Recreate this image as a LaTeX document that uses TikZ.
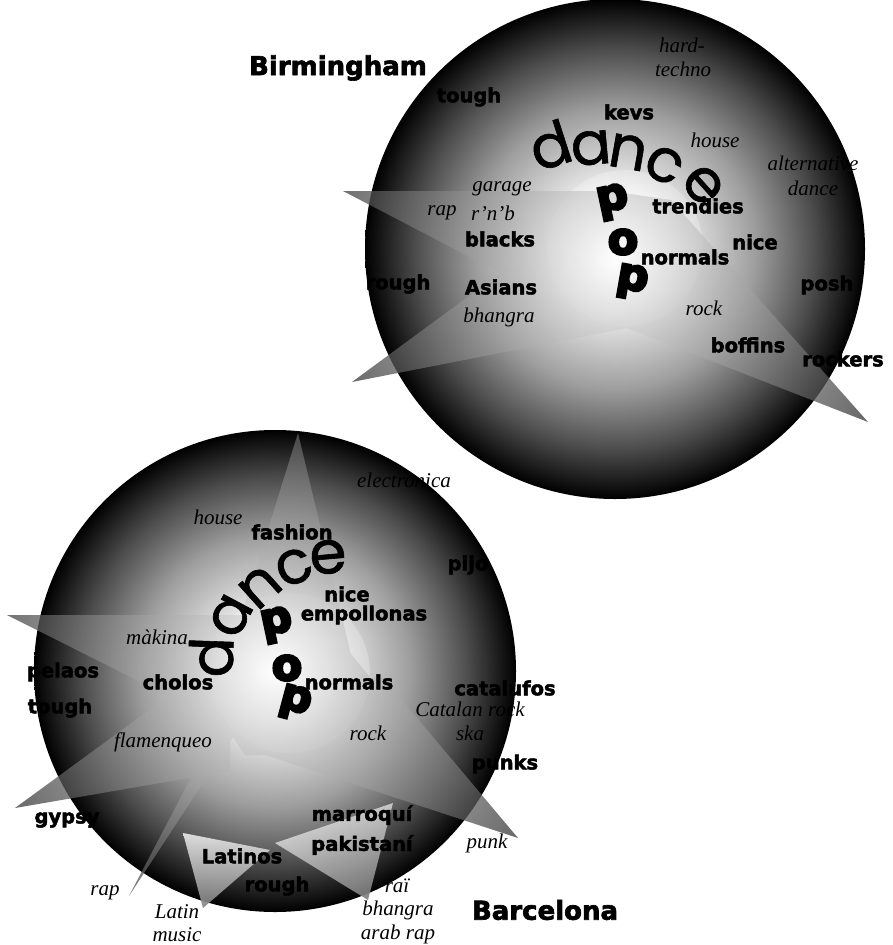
\documentclass[tikz,border=0pt]{standalone}
\usepackage{fontspec}
\setmainfont{Liberation Serif}
\newfontfamily\heavyfont{DejaVu Sans Bold}[FakeBold=2.5]
\newfontfamily\popfont{DejaVu Sans Bold}[FakeBold=6]
\newfontfamily\dancefont{Poppins}[FakeBold=1]

\pgfdeclareradialshading{ballshade}{\pgfpoint{0bp}{0bp}}{color(0bp)=(white); color(6bp)=(white!94!black); color(14bp)=(white!62!black); color(20bp)=(white!30!black); color(25bp)=(black); color(50bp)=(black)}
\pgfdeclareradialshading{spikeshade}{\pgfpoint{0bp}{0bp}}{color(0bp)=(white); color(25bp)=(black!80); color(50bp)=(black!80)}

\tikzset{
	grp/.style={font=\heavyfont\fontsize{19.5}{19.5}\selectfont, inner sep=0pt},
	gen/.style={font=\itshape\fontsize{21}{21}\selectfont, inner sep=0pt},
	city/.style={font=\heavyfont\fontsize{26}{26}\selectfont, inner sep=0pt},
	dnc/.style={font=\dancefont\fontsize{60}{60}\selectfont, inner sep=0pt},
	pp/.style={font=\popfont\fontsize{44}{44}\selectfont, inner sep=0pt}
}

\begin{document}
\begin{tikzpicture}[x=1pt, y=-1pt]
			%%%%% START %%%%%
			\useasboundingbox (0, 0) rectangle (892, 945);
			
			%%%%% Birmingham %%%%%
			\shade[shading=ballshade] (615, 249) circle (250pt);
			\fill[white, opacity=0.25] (625, 248) circle (78pt);
			
			\begin{scope}
				\clip (343, 191) -- (610, 191) -- (610, 330) -- cycle
				      (352, 382) -- (590, 207) -- (627, 328) -- cycle
				      (868, 422) -- (627, 328) -- (671, 200) -- cycle
				      (610, 191) -- (671, 200) -- (627, 328) -- (610, 330) -- cycle;
				\shade[shading=spikeshade, fill opacity=0.75] (615, 260) circle (300pt);
			\end{scope}
			
			\node[city] (bham) at (338, 68) {Birmingham};
			\node[grp] (btough) at (469, 97) {tough};
			\node[grp] (bkevs) at (629, 112) {kevs};
			\node[gen] (bhard) at (682, 45) {hard-};
			\node[gen] (btechno) at (683, 69) {techno};
			\node[gen] (bhouse) at (715, 140) {house};
			\node[gen] (balt) at (813, 163) {alternative};
			\node[gen] (baltdance) at (813, 188) {dance};
			\node[gen] (bgarage) at (502, 189) {garage};
			\node[gen] (brap) at (442, 213) {rap};
			\node[gen] (brnb) at (493, 213) {r’n’b};
			\node[grp] (btrendies) at (698, 206) {trendies};
			\node[grp] (bblacks) at (500, 239) {blacks};
			\node[grp] (bnice) at (755, 242) {nice};
			\node[grp] (bnormals) at (685, 257) {normals};
			\node[grp] (brough) at (398, 284) {rough};
			\node[grp] (basians) at (501, 287) {Asians};
			\node[grp] (bposh) at (827, 285) {posh};
			\node[gen] (bbhangra) at (499, 317) {bhangra};
			\node[gen] (brock) at (704, 308) {rock};
			\node[grp] (bboffins) at (748, 345) {boffins};
			\node[grp] (brockers) at (843, 359) {rockers};
			
			\node[dnc, rotate=18] (bd) at (550, 145) {d};
			\node[dnc, rotate=5] (ba) at (591, 148) {a};
			\node[dnc, rotate=-10] (bn) at (628, 152) {n};
			\node[dnc, rotate=-28] (bc) at (664, 165) {c};
			\node[dnc, rotate=-48] (be) at (703, 185) {e};
			
			\node[pp, rotate=12] (bpa) at (613, 202) {p};
			\node[pp] (bpo) at (623, 242) {o};
			\node[pp, rotate=-10] (bpb) at (632, 282) {p};
			
			%%%%% Barcelona %%%%%
			\shade[shading=ballshade] (275, 671) circle (241pt);
			\fill[white, opacity=0.25] (290, 673) circle (80pt);
			
			\begin{scope}
				\clip (298, 433) -- (357, 680) -- (221, 680) -- cycle
				      (7, 615) -- (290, 615) -- (290, 757) -- cycle
				      (15, 808) -- (230, 651) -- (230, 771) -- cycle
				      (129, 896) -- (258, 650) -- (290, 650) -- cycle
				      (518, 838) -- (250, 750) -- (380, 674) -- cycle
				      (221, 640) -- (340, 640) -- (380, 690) -- (330, 755) -- (245, 755) -- (215, 710) -- cycle;
				\shade[shading=spikeshade, fill opacity=0.75] (275, 671) circle (300pt);
			\end{scope}
			
			\shade[top color=white!92!black, bottom color=black!50, opacity=0.9] (183, 833) -- (270, 850) -- (203, 908) -- cycle;
			\shade[top color=white!92!black, bottom color=black!50, shading angle=20, opacity=0.9] (275, 843) -- (393, 803) -- (368, 900) -- cycle;
			
			\node[city] (bcn) at (545, 910) {Barcelona};
			\node[gen] (celec) at (404, 480) {electronica};
			\node[gen] (chouse) at (218, 517) {house};
			\node[grp] (cfashion) at (292, 532) {fashion};
			\node[grp] (cpijo) at (468, 565) {pijo};
			\node[grp] (cnice) at (347, 594) {nice};
			\node[grp] (cempoll) at (364, 615) {empollonas};
			\node[gen] (cmakina) at (157, 637) {màkina};
			\node[grp] (cpelaos) at (63, 672) {pelaos};
			\node[grp] (ccholos) at (178, 682) {cholos};
			\node[grp] (cnormals) at (349, 682) {normals};
			\node[grp] (ccatal) at (505, 688) {catalufos};
			\node[grp] (ctough) at (60, 708) {tough};
			\node[gen] (ccatrock) at (470, 709) {Catalan rock};
			\node[gen] (crock) at (368, 733) {rock};
			\node[gen] (cska) at (470, 733) {ska};
			\node[gen] (cflam) at (163, 742) {flamenqueo};
			\node[grp] (cpunks) at (505, 764) {punks};
			\node[grp] (cgypsy) at (67, 820) {gypsy};
			\node[grp] (cmarr) at (362, 815) {marroquí};
			\node[gen] (cpunk) at (487, 843) {punk};
			\node[grp] (cpak) at (362, 845) {pakistaní};
			\node[grp] (clatinos) at (242, 856) {Latinos};
			\node[grp] (crough) at (277, 886) {rough};
			\node[gen] (crai) at (397, 886) {raï};
			\node[gen] (crap) at (105, 893) {rap};
			\node[gen] (clatin) at (177, 912) {Latin};
			\node[gen] (cmusic) at (177, 935) {music};
			\node[gen] (cbhangra) at (398, 910) {bhangra};
			\node[gen] (carab) at (398, 934) {arab rap};
			
			\node[dnc, rotate=88] (cd) at (211, 657) {d};
			\node[dnc, rotate=62] (ca) at (231, 616) {a};
			\node[dnc, rotate=42] (cn) at (260, 587) {n};
			\node[dnc, rotate=22] (cc) at (294, 567) {c};
			\node[dnc, rotate=5] (ce) at (328, 557) {e};
			
			\node[pp, rotate=12] (cpa) at (277, 625) {p};
			\node[pp] (cpo) at (287, 668) {o};
			\node[pp, rotate=-15] (cpb) at (295, 703) {p};
			
			%%%%% END %%%%%
\end{tikzpicture}
\end{document}
